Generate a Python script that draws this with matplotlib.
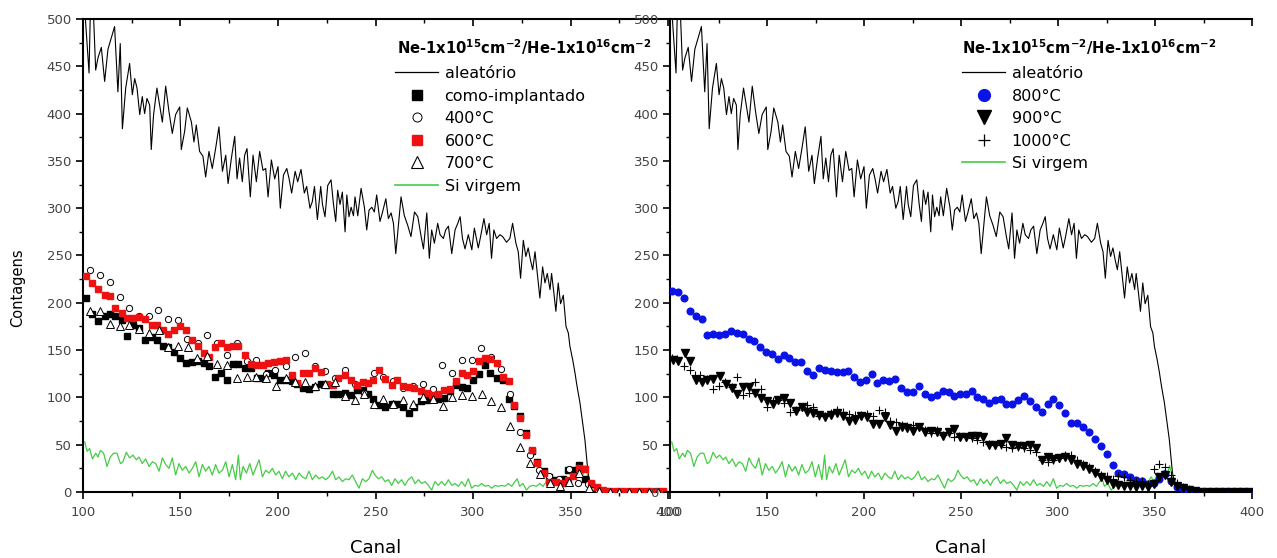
import matplotlib
matplotlib.use('Agg')
import matplotlib.pyplot as plt
from matplotlib.ticker import MultipleLocator
from matplotlib.lines import Line2D

plt.rcParams['font.family'] = ['DejaVu Sans']
plt.rcParams['mathtext.fontset'] = 'dejavusans'

# ---------------- data ----------------
rand_ch = [100.0, 100.9, 103.1, 104.3, 105.1, 106.5, 107.7, 109.4, 111.1, 112.8,
           114.5, 116.2, 117.9, 119.1, 120.2, 121.9, 123.9, 125.3, 126.5, 127.7,
           129.1, 130.4, 131.6, 132.8, 134.2, 135.0, 136.2, 137.9, 139.3, 140.7,
           142.4, 144.1, 145.8, 147.5, 149.6, 150.4, 152.1, 153.5, 155.6, 156.9,
           158.1, 159.8, 161.5, 162.9, 164.6, 166.3, 168.0, 169.7, 171.5, 173.2,
           174.4, 176.1, 177.8, 179.0, 180.3, 181.7, 182.9, 184.1, 185.8, 187.2,
           188.9, 190.6, 192.3, 193.7, 194.9, 196.6, 198.3, 200.0, 201.2,
           202.8, 204.5, 205.7, 207.0, 208.8, 210.1, 211.8, 213.5, 214.7, 216.4,
           217.6, 218.7, 220.2, 221.9, 222.8, 224.1, 225.5, 227.2, 228.4, 229.6,
           230.6, 231.8, 233.0, 234.4, 235.3, 236.4, 237.5, 238.7, 239.5, 240.9,
           242.6, 244.3, 245.5, 246.7, 248.1, 249.4, 250.6, 252.3, 253.5, 255.3,
           256.6, 258.0, 259.2, 260.4, 261.7, 263.1, 264.8, 266.5, 268.2, 270.0,
           271.7, 273.4, 274.6, 276.3, 277.6, 278.8, 280.2, 281.9, 283.1, 284.8,
           286.0, 287.4, 289.1, 290.8, 292.2, 293.4, 294.6, 295.9, 297.6, 299.4,
           300.7,
           302.7, 303.9, 305.6, 307.0, 308.3, 309.5, 310.7, 312.1, 313.8, 315.2,
           317.2, 318.9, 320.3, 322.0, 323.2, 324.4, 325.8, 327.1, 328.3, 329.5,
           330.6, 331.8, 333.0, 334.3, 335.7, 336.9, 338.1, 339.5, 340.3, 341.5,
           342.5, 343.7, 344.9, 346.3, 347.7, 348.9, 349.7, 351.1, 352.3, 353.1,
           354.0, 354.8, 357.4, 359.0, 361.0, 363.0, 370.0, 380.0, 390.0, 400.0]
rand_cnt = [540, 510, 443, 560, 520, 446, 459, 470, 434, 468,
            480, 492, 423, 474, 384, 427, 453, 420, 437, 427,
            399, 418, 400, 416, 409, 362, 399, 427, 409, 391,
            429, 402, 379, 399, 407, 362, 381, 406, 391, 370,
            388, 360, 355, 333, 360, 342, 363, 386, 339, 356,
            326, 353, 376, 331, 353, 328, 356, 363, 312, 356,
            328, 360, 340, 342, 312, 351, 331, 344, 300,
            335, 342, 331, 316, 339, 328, 341, 316, 323, 300,
            307, 323, 288, 323, 304, 291, 324, 330, 305, 286,
            319, 304, 317, 275, 314, 291, 301, 292, 312, 292,
            321, 301, 277, 298, 301, 296, 314, 286, 295, 310,
            289, 295, 284, 252, 281, 312, 292, 282, 270, 296,
            291, 270, 257, 295, 247, 277, 263, 284, 272, 268,
            277, 281, 252, 277, 284, 291, 268, 257, 272, 256,
            279,
            258, 270, 289, 272, 284, 247, 277, 268, 272, 270,
            264, 268, 284, 263, 254, 226, 266, 249, 258, 245,
            235, 254, 231, 205, 238, 221, 231, 214, 231, 210,
            191, 221, 199, 208, 175, 168, 154, 140, 126, 115,
            104, 95, 55, 20, 2, 0.5, 0.5, 0.3, 0.5, 0.3]

si_ch = [100.9, 102.1, 103.4, 104.8, 106.5, 107.7, 108.9, 110.6, 112.3, 114.0,
         115.7, 117.4, 119.2, 120.5, 122.2, 123.9, 125.6, 127.4, 128.7, 130.4,
         132.1, 133.9, 135.6, 137.3, 139.0, 140.7, 142.4, 144.1, 145.8, 147.5,
         149.2, 150.9, 152.7, 154.4, 156.1, 157.8, 159.5, 161.2, 162.9, 164.6,
         166.3, 168.0, 169.7, 171.5, 173.2, 174.9, 176.6, 178.3, 179.7, 180.7,
         182.1, 183.8, 185.5, 187.2, 188.9, 190.3, 192.0, 193.7, 195.4, 197.1,
         198.8, 200.5, 202.2, 203.9, 205.6, 207.4, 209.1, 210.8, 212.5, 214.2,
         215.9, 217.6, 219.3, 221.0, 222.7, 224.4, 226.2, 227.9, 229.6, 231.3,
         233.0, 234.7, 236.4, 238.1, 239.8, 241.5, 243.3, 245.0, 246.7, 248.4,
         249.7, 251.5, 253.2, 254.9, 256.6, 258.3, 260.0, 261.7, 263.4, 265.1,
         266.8, 268.6, 270.3, 272.0, 273.7, 275.4, 277.1, 278.8, 280.5, 282.2,
         283.9, 285.6, 287.4, 289.1, 290.8, 292.5, 294.2, 295.9, 297.6, 299.3,
         301.0, 302.7, 304.4, 306.2, 307.9, 309.6, 311.3, 313.0, 314.7, 316.4,
         318.1, 319.8, 321.5, 322.7, 323.9, 325.6, 327.4, 329.1, 330.8,
         332.5, 334.2, 335.9, 337.6, 339.3, 341.0, 342.7, 344.4, 346.2, 347.9,
         349.6, 351.3, 353.0, 354.7, 356.4,
         357.5, 358.5, 359.5, 360.5, 362.0, 364.0, 370.0, 380.0, 390.0, 400.0]
si_cnt = [53, 43, 46, 35, 41, 37, 44, 41, 27, 37,
          41, 41, 30, 32, 42, 36, 39, 34, 37, 30,
          35, 27, 32, 30, 22, 36, 29, 25, 36, 18,
          30, 23, 27, 20, 25, 32, 16, 29, 22, 27,
          18, 29, 20, 23, 32, 16, 29, 13, 39, 13,
          27, 20, 30, 18, 27, 34, 16, 23, 20, 25,
          18, 22, 14, 22, 16, 20, 13, 20, 16, 14,
          22, 13, 18, 14, 16, 13, 16, 22, 13, 16,
          11, 14, 13, 18, 11, 4, 14, 11, 14, 23,
          18, 14, 16, 11, 13, 7, 14, 9, 13, 7,
          13, 16, 9, 13, 9, 11, 7, 2, 11, 7,
          11, 7, 13, 7, 9, 6, 11, 6, 14, 4,
          7, 6, 9, 6, 7, 4, 7, 6, 7, 6,
          9, 6, 11, 14, 6, 9, 2, 6, 7,
          6, 9, 6, 11, 7, 13, 9, 14, 9, 16,
          11, 20, 14, 23, 18,
          28, 20, 10, 4, 1, 0.3, 0.3, 0.2, 0.3, 0.2]

# left panel: squares (como-implantado and 600 C) share channels
sq_ch = [101.3, 104.5, 107.9, 111.3, 113.9, 116.4, 119.8, 122.7, 125.8, 128.9,
         131.8, 135.2, 137.8, 141.2, 143.8, 146.7, 149.8, 152.8, 155.7, 159.2,
         162.1, 164.8, 167.7, 170.6, 173.7, 176.8, 179.7, 183.1, 186.0, 189.1,
         192.1, 195.1, 198.0, 201.0, 204.1, 207.0, 209.9, 213.0, 216.1, 219.0,
         221.9, 225.0, 228.0, 231.0, 234.4, 237.3, 240.4, 243.4, 246.3, 248.9,
         252.0, 254.9, 258.3, 261.2, 264.3, 267.3, 269.7, 273.2, 276.2, 279.1,
         282.2, 285.1, 288.2, 291.3, 294.2, 297.1, 300.2, 303.2, 306.1, 308.7,
         312.1, 315.2, 318.6, 321.0, 324.1, 327.2, 330.1, 333.0, 336.4, 339.1,
         342.6, 346.0, 348.9, 351.4, 354.5, 357.4, 360.3, 363.4, 366.5, 370.2,
         373.7, 377.1, 380.5, 383.9, 387.3, 390.8, 394.2, 397.6]
asimpl_cnt = [205, 188, 181, 186, 188, 186, 182, 165, 177, 173,
              161, 164, 161, 154, 153, 148, 142, 136, 137, 138,
              136, 133, 122, 126, 118, 135, 135, 131, 131, 121,
              120, 126, 124, 118, 118, 117, 114, 110, 109, 111,
              114, 113, 104, 104, 105, 103, 108, 108, 104, 98,
              92, 90, 93, 93, 90, 83, 90, 96, 97, 98,
              98, 99, 107, 113, 111, 110, 118, 125, 134, 126,
              121, 118, 98, 91, 80, 62, 43, 32, 22, 16,
              13, 14, 23, 23, 29, 14, 8.5, 4, 1.5, 0.5,
              0.5, 0.5, 0.5, 0.5, 0.5, 0.5, 0.5, 0.5]
t600_cnt = [228, 221, 215, 208, 207, 194, 189, 184, 184, 185,
            183, 177, 177, 171, 167, 171, 176, 171, 161, 154,
            147, 143, 153, 158, 153, 154, 154, 145, 135, 134,
            134, 136, 137, 139, 140, 124, 115, 126, 126, 131,
            127, 114, 113, 121, 124, 118, 113, 116, 115, 118,
            129, 119, 113, 118, 112, 111, 110, 107, 105, 103,
            104, 108, 109, 117, 126, 124, 128, 138, 142, 141,
            136, 122, 117, 92, 78, 60, 44, 31, 20, 11,
            11, 10, 13, 17, 25, 24, 9, 5, 2, 1.4,
            1, 1.2, 0.8, 1, 1.3, 0.9, 1.1, 1]

t400_ch = [103.6, 108.7, 113.9, 119.0, 123.8, 128.9, 134.0, 138.6, 143.8, 148.9,
           153.5, 159.2, 163.8, 168.6, 173.7, 178.8, 183.9, 188.7, 193.9, 198.5,
           204.1, 208.7, 213.9, 219.0, 224.1, 229.2, 234.4, 239.5, 244.1, 249.2,
           254.0, 259.1, 263.9, 269.1, 274.2, 279.3, 283.9, 289.1, 294.2, 299.3,
           303.9, 309.1, 314.2, 319.0, 324.1, 329.2, 334.0, 339.1, 344.3, 349.4,
           354.0, 359.1, 364.3, 369.4, 374.5, 379.6, 384.7, 389.8, 394.9]
t400_cnt = [235, 229, 222, 206, 195, 186, 186, 192, 183, 182,
            162, 158, 166, 158, 145, 157, 138, 140, 125, 129,
            133, 143, 147, 133, 128, 121, 129, 114, 105, 126,
            122, 117, 110, 112, 114, 109, 134, 126, 140, 140,
            152, 143, 130, 104, 63, 39, 23, 17, 14, 24,
            9, 8, 2, 1, 0.3, 0.3, 0.3, 1.5, 0.3]

t700_ch = [103.6, 108.7, 113.9, 119.0, 123.8, 128.9, 134.0, 139.2, 143.8, 148.9,
           154.0, 158.6, 163.8, 168.9, 174.0, 178.8, 183.9, 188.7, 193.9, 199.0,
           204.1, 208.7, 213.9, 219.0, 224.1, 229.2, 234.4, 239.5, 244.1, 249.2,
           254.0, 259.1, 263.9, 269.1, 274.2, 279.3, 284.4, 289.1, 294.2, 299.3,
           304.4, 309.1, 314.2, 319.0, 324.1, 329.2, 334.4, 339.5, 344.6, 349.4,
           354.5, 359.6, 364.8, 370.0, 375.0, 380.0, 385.0, 390.0, 395.0]
t700_cnt = [191, 191, 178, 176, 177, 172, 168, 171, 153, 154,
            153, 142, 144, 135, 134, 120, 122, 122, 120, 112,
            121, 116, 116, 112, 114, 116, 101, 97, 104, 93,
            98, 93, 97, 93, 100, 98, 91, 100, 103, 102,
            104, 96, 90, 70, 48, 31, 19, 10, 6, 11,
            20, 4, 1.5, 0.5, 0.5, 0.5, 0.5, 0.5, 0.5]

# right panel
t800_ch = [100.9, 104.3, 107.2, 110.3, 113.4, 116.3, 119.2, 122.3, 125.4, 128.4,
           131.3, 134.4, 137.5, 140.6, 143.5, 146.4, 149.5, 152.6, 155.5, 158.8,
           161.5, 164.4, 167.4, 170.4, 173.5, 176.6, 179.7, 182.8, 185.9, 189.0,
           191.9, 194.9, 197.9, 201.0, 204.0, 206.9, 210.0, 213.1, 216.2, 218.9,
           222.0, 225.1, 228.2, 231.3, 234.4, 237.5, 240.6, 243.6, 246.4, 249.5,
           252.5, 255.5, 258.4, 261.5, 264.6, 267.5, 270.4, 273.2, 276.1, 279.5,
           282.4, 285.5, 288.6, 291.7, 294.8, 297.6, 300.7, 303.6, 306.5, 309.6,
           312.7, 315.8, 318.9, 322.0, 325.1, 328.2, 331.1, 334.0, 337.1, 340.2,
           343.3, 346.4, 349.5, 352.2, 355.1, 358.0, 361.1, 364.2, 367.3, 370.6,
           373.5, 376.6, 379.7, 382.8, 385.9, 389.0, 392.1, 395.2, 398.3]
t800_cnt = [212, 211, 205, 191, 186, 183, 166, 167, 166, 167,
            170, 168, 167, 162, 160, 153, 148, 146, 141, 145,
            142, 137, 137, 128, 124, 131, 129, 128, 127, 127,
            128, 122, 116, 118, 125, 115, 118, 117, 119, 110,
            106, 106, 112, 104, 100, 103, 107, 106, 101, 104,
            104, 107, 100, 98, 94, 97, 98, 93, 93, 97,
            102, 96, 90, 85, 93, 98, 92, 83, 73, 73,
            69, 63, 56, 49, 40, 29, 20, 19, 16, 13,
            12, 8.5, 9, 14, 19, 12, 5.6, 2.8, 1.4, 0.4,
            0.3, 0.3, 0.3, 0.3, 0.3, 0.3, 0.3, 0.3, 0.3]

t900_ch = [101.7, 104.3, 107.7, 110.3, 113.4, 116.3, 119.2, 122.3, 125.8, 128.9,
           131.8, 134.7, 137.8, 140.9, 144.0, 146.9, 149.8, 152.9, 155.9, 158.8,
           161.9, 165.0, 167.9, 170.8, 173.9, 177.0, 180.1, 183.2, 185.9, 189.0,
           192.1, 195.2, 198.3, 201.4, 204.5, 207.6, 210.7, 213.4, 216.5, 219.4,
           222.3, 225.4, 228.5, 231.6, 234.7, 237.8, 240.6, 243.6, 246.4, 249.5,
           252.5, 255.5, 258.4, 261.5, 264.6, 267.5, 270.4, 273.2, 276.1, 279.5,
           282.4, 285.5, 288.6, 291.7, 294.8, 297.6, 300.7, 303.6, 306.5, 309.6,
           312.7, 315.8, 318.9, 322.0, 325.1, 328.2, 331.1, 334.0, 337.1, 340.2,
           343.3, 346.4, 349.5, 352.2, 355.1, 358.0, 361.1, 364.2, 367.3, 370.6,
           373.5, 376.6, 379.7, 382.8, 385.9, 389.0, 392.1, 395.2, 398.3]
t900_cnt = [140, 139, 147, 138, 118, 116, 118, 119, 123, 114,
            110, 104, 111, 111, 105, 99, 96, 93, 97, 99,
            94, 86, 90, 85, 84, 81, 79, 81, 84, 80,
            75, 76, 80, 79, 72, 72, 79, 71, 65, 69,
            68, 65, 69, 63, 64, 63, 59, 63, 67, 58,
            58, 59, 59, 58, 50, 50, 51, 57, 50, 49,
            49, 50, 47, 34, 37, 35, 36, 37, 34, 30,
            27, 24, 20, 16, 13, 8.5, 7.4, 6.3, 6.3, 5.6,
            6.3, 5.6, 8.5, 16, 18, 11, 6.3, 3.9, 2.1, 1.1,
            0.3, 0.3, 0.3, 0.3, 0.3, 0.3, 0.3, 0.3, 0.3]

t1000_ch = [100.9, 103.4, 107.2, 110.3, 112.9, 115.5, 118.9, 122.3, 125.4, 128.4,
            131.8, 134.7, 137.8, 140.9, 143.8, 146.7, 149.8, 152.9, 155.9, 158.8,
            161.9, 165.0, 167.9, 170.8, 173.9, 177.0, 180.1, 183.2, 186.3, 189.0,
            192.1, 195.2, 198.3, 201.4, 204.5, 207.6, 210.7, 213.4, 216.5, 219.4,
            222.3, 225.4, 228.5, 231.6, 234.7, 237.8, 240.6, 243.6, 246.4, 249.1,
            252.5, 255.5, 258.4, 261.5, 264.6, 267.5, 270.4, 273.2, 276.1, 279.5,
            282.4, 285.5, 288.6, 291.7, 294.8, 297.6, 300.7, 303.6, 306.5, 309.6,
            312.7, 315.8, 318.9, 322.0, 325.1, 328.2, 331.1, 334.0, 337.1, 340.2,
            343.3, 346.4, 349.5, 352.2, 355.1, 358.0, 361.1, 364.2, 367.3, 370.6,
            375.0, 380.0, 385.0, 390.0, 395.0]
t1000_cnt = [142, 141, 133, 129, 124, 124, 119, 109, 112, 116,
             111, 122, 103, 105, 116, 109, 90, 96, 97, 94,
             85, 87, 90, 92, 90, 80, 80, 84, 87, 85,
             82, 81, 81, 82, 80, 87, 85, 75, 74, 71,
             70, 71, 69, 66, 62, 66, 60, 62, 58, 59,
             58, 57, 55, 53, 51, 50, 50, 48, 47, 48,
             46, 44, 42, 34, 32, 34, 36, 39, 39, 34,
             30, 26, 22, 18, 17, 14, 17, 16, 13, 12,
             12, 8, 24, 30, 26, 18, 9, 5, 3, 1,
             0.3, 0.3, 0.3, 0.3, 0.3]

x_ticks = [100, 150, 200, 250, 300, 350, 400]
y_ticks = [0, 50, 100, 150, 200, 250, 300, 350, 400, 450, 500]
title_txt = r'Ne-1x10$^{\mathbf{15}}$cm$^{\mathbf{-2}}$/He-1x10$^{\mathbf{16}}$cm$^{\mathbf{-2}}$'

GREEN = '#45cc45'
TICKC = '#444444'

# ---------------- figure ----------------
W, H = 1277, 558
fig = plt.figure(figsize=(W / 100, H / 100), dpi=100)


def rect(l, r, t, b):
    return [l / W, 1 - b / H, (r - l) / W, (b - t) / H]


axL = fig.add_axes(rect(83, 668, 19, 492))
axR = fig.add_axes(rect(670, 1252, 19, 492))


def style(ax):
    ax.set_xlim(100, 400)
    ax.set_ylim(0, 500)
    ax.set_xticks(x_ticks)
    ax.set_yticks(y_ticks)
    ax.xaxis.set_minor_locator(MultipleLocator(25))
    ax.yaxis.set_minor_locator(MultipleLocator(25))
    ax.tick_params(which='both', direction='out', color='black',
                   labelcolor=TICKC, labelsize=9.5)
    ax.tick_params(axis='x', pad=5)
    ax.tick_params(axis='y', pad=3)
    ax.tick_params(which='major', length=5, width=1.2)
    ax.tick_params(which='minor', length=3, width=1.0)
    for s in ['left', 'bottom']:
        ax.spines[s].set_linewidth(1.5)
    ax.spines['right'].set_visible(False)
    ax.spines['top'].set_visible(False)
    sec = ax.secondary_xaxis('top')
    sec.set_xticks(x_ticks)
    sec.xaxis.set_minor_locator(MultipleLocator(25))
    sec.tick_params(which='both', direction='in', labeltop=False)
    sec.tick_params(which='major', length=5, width=1.2)
    sec.tick_params(which='minor', length=3, width=1.0)
    sec.spines['top'].set_linewidth(1.5)
    ax.set_xlabel('Canal', fontsize=13)
    ax.xaxis.set_label_coords(0.5, -(548 - 492) / 473, transform=ax.transAxes)
    ax.xaxis.label.set_va('center')
    ax.patch.set_alpha(0)


style(axL)
style(axR)
axL.set_ylabel('Contagens', fontsize=10.5)
axL.yaxis.set_label_coords((18 - 83) / 585, (492 - 288) / 473)
axL.yaxis.label.set_va('center')

for ax in (axL, axR):
    ax.plot(rand_ch, rand_cnt, color='black', lw=0.8, zorder=2)
    ax.plot(si_ch, si_cnt, color=GREEN, lw=0.9, zorder=2)

# left panel scatter
axL.plot(sq_ch, asimpl_cnt, ls='none', marker='s', ms=4.3, color='black', zorder=3)
axL.plot(t400_ch, t400_cnt, ls='none', marker='o', ms=4.5, mfc='white', mec='black', mew=0.7, zorder=3)
axL.plot(sq_ch, t600_cnt, ls='none', marker='s', ms=4.3, color='#ee1111', zorder=4)
axL.plot(t700_ch, t700_cnt, ls='none', marker='^', ms=5.5, mfc='white', mec='black', mew=0.7, zorder=4)

# right panel scatter
axR.plot(t800_ch, t800_cnt, ls='none', marker='o', ms=4.8, color='#0a14e6', zorder=3)
axR.plot(t900_ch, t900_cnt, ls='none', marker='v', ms=6, color='black', zorder=3)
axR.plot(t1000_ch, t1000_cnt, ls='none', marker='+', ms=5.5, mew=0.8, color='black', zorder=4)

# legends
hL = [Line2D([], [], color='black', lw=0.9),
      Line2D([], [], ls='none', marker='s', ms=7, color='black'),
      Line2D([], [], ls='none', marker='o', ms=6.5, mfc='white', mec='black', mew=0.7),
      Line2D([], [], ls='none', marker='s', ms=7, color='#ee1111'),
      Line2D([], [], ls='none', marker='^', ms=9, mfc='white', mec='black', mew=0.8),
      Line2D([], [], color=GREEN, lw=1.2)]
lL = ['aleatório', 'como-implantado', '400°C', '600°C', '700°C', 'Si virgem']
hR = [Line2D([], [], color='black', lw=0.9),
      Line2D([], [], ls='none', marker='o', ms=8.5, color='#0a14e6'),
      Line2D([], [], ls='none', marker='v', ms=9.5, color='black'),
      Line2D([], [], ls='none', marker='+', ms=8.5, mew=0.9, color='black'),
      Line2D([], [], color=GREEN, lw=1.2)]
lR = ['aleatório', '800°C', '900°C', '1000°C', 'Si virgem']

legkw = dict(loc='upper left', frameon=False, fontsize=11.5, handlelength=2.7,
             handletextpad=0.4, labelspacing=0.47, borderpad=0, borderaxespad=0)
axL.legend(hL, lL, bbox_to_anchor=((395 - 83) / 585, (492 - 66) / 473), **legkw)
axR.legend(hR, lR, bbox_to_anchor=((962 - 670) / 582, (492 - 66) / 473), **legkw)

axL.text((397 - 83) / 585, (492 - 47) / 473, title_txt, transform=axL.transAxes,
         fontsize=10.6, fontweight='bold', ha='left', va='center')
axR.text((962 - 670) / 582, (492 - 47) / 473, title_txt, transform=axR.transAxes,
         fontsize=10.6, fontweight='bold', ha='left', va='center')

fig.savefig('out.png', dpi=100)
